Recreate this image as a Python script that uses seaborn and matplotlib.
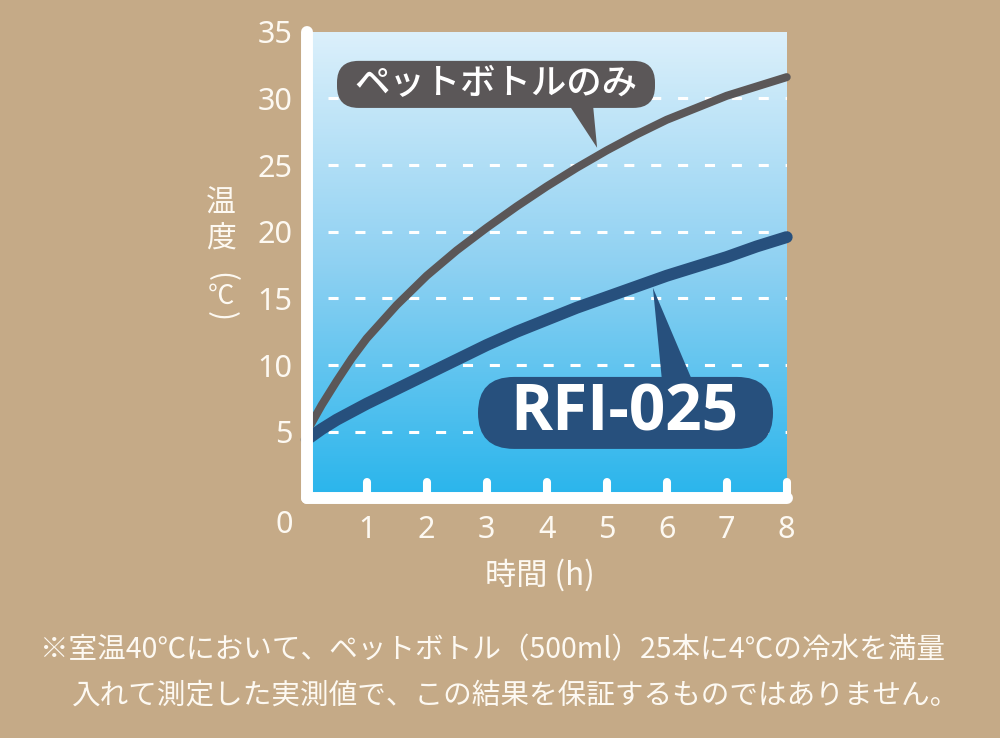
import numpy as np
import pandas as pd
import matplotlib
matplotlib.use('Agg')
import matplotlib.pyplot as plt
import seaborn as sns
from matplotlib.colors import LinearSegmentedColormap
from matplotlib.patches import FancyBboxPatch, Polygon

# data (hours -> temperature in C)
hours = [0, 0.25, 0.5, 0.75, 1, 1.5, 2, 2.5, 3, 3.5, 4, 4.5, 5, 5.5, 6, 6.5, 7, 7.5, 8]
bottle_only = [5.0, 7.0, 8.8, 10.5, 12.0, 14.5, 16.7, 18.6, 20.3, 21.9, 23.4, 24.8, 26.1, 27.3, 28.4, 29.3, 30.2, 30.9, 31.6]
rfi_025 = [4.4, 5.2, 5.9, 6.5, 7.1, 8.2, 9.3, 10.4, 11.5, 12.5, 13.4, 14.3, 15.1, 15.9, 16.7, 17.4, 18.1, 18.9, 19.6]
x_ticks = [1, 2, 3, 4, 5, 6, 7, 8]
y_ticks = [5, 10, 15, 20, 25, 30, 35]
grid_levels = [5, 10, 15, 20, 25, 30]

BG = '#c5aa87'
TXT = '#fdf9f2'
GRAY = '#5b5758'
NAVY = '#27507d'
JP = ['Noto Sans CJK JP', 'DejaVu Sans']
NUM = ['Noto Sans', 'Noto Sans CJK JP', 'DejaVu Sans']

sns.set_style('white')
plt.rcParams['font.family'] = JP

df = pd.DataFrame({'h': hours, 'bottle': bottle_only, 'rfi': rfi_025})

fig = plt.figure(figsize=(10, 7.38), dpi=100, facecolor=BG)
ax = fig.add_axes([0.3067, 0.3247, 0.48, 0.6322])
ax.patch.set_visible(False)

# background gradient
cmap = LinearSegmentedColormap.from_list('sky', ['#29b5ec', '#8fd1f2', '#dcf0fb'])
ax.imshow(np.linspace(0, 1, 256).reshape(-1, 1), extent=[0, 8.05, 0, 35], origin='lower',
          cmap=cmap, aspect='auto', zorder=0, interpolation='bicubic')

# dashed grid
ax.hlines(grid_levels, 0.35, 8.0, colors='white', linewidth=2.2,
          linestyles=(0, (3.3, 5.5)), zorder=1)

sns.lineplot(data=df, x='h', y='bottle', color=GRAY, linewidth=5.8, ax=ax,
             solid_capstyle='round', solid_joinstyle='round', clip_on=False, zorder=3)
sns.lineplot(data=df, x='h', y='rfi', color=NAVY, linewidth=8.6, ax=ax,
             solid_capstyle='round', solid_joinstyle='round', clip_on=False, zorder=3)

ax.set_xlim(0, 8)
ax.set_ylim(0, 35)
ax.set_xlabel('')
ax.set_ylabel('')

# axes lines
for s in ['top', 'right']:
    ax.spines[s].set_visible(False)
for s in ['left', 'bottom']:
    ax.spines[s].set_color('white')
    ax.spines[s].set_linewidth(8.6)
    ax.spines[s].set_capstyle('round')
    ax.spines[s].set_zorder(5)

# upward tick marks
ax.vlines(x_ticks, 0, 1.2, colors='white', linewidth=5.8, capstyle='round', zorder=5, clip_on=False)

ax.set_xticks(x_ticks)
ax.set_yticks(y_ticks)
ax.tick_params(length=0, colors=TXT, labelsize=22)
ax.tick_params(axis='y', pad=10.5)
ax.tick_params(axis='x', pad=12)
for lab in ax.get_xticklabels() + ax.get_yticklabels():
    lab.set_family(NUM)
ax.annotate('0', xy=(0, 0), xytext=(-16, -19), textcoords='offset points',
            ha='center', va='center', fontsize=22, color=TXT, family=NUM)

# callouts
asp = (35 / (0.6322 * 738)) / (8 / (0.48 * 1000))
ax.add_patch(FancyBboxPatch((0.505, 29.29), 5.3, 3.53, boxstyle='round,pad=0,rounding_size=0.36',
                            mutation_aspect=asp, fc=GRAY, ec='none', zorder=6, clip_on=False))
ax.add_patch(Polygon([(4.36, 29.6), (4.77, 29.6), (4.84, 26.3)], closed=True, fc=GRAY, ec='none', zorder=6))
ax.text(3.155, 31.05, 'ペットボトルのみ', ha='center', va='center', fontsize=25.5,
        fontweight='medium', color='white', zorder=7)

ax.add_patch(FancyBboxPatch((2.855, 3.71), 4.917, 5.4, boxstyle='round,pad=0,rounding_size=0.6',
                            mutation_aspect=asp, fc=NAVY, ec='none', zorder=6))
ax.add_patch(Polygon([(5.92, 8.9), (6.42, 8.9), (5.77, 15.8)], closed=True, fc=NAVY, ec='none', zorder=6))
ax.text(5.3, 6.35, 'RFI-025', ha='center', va='center', fontsize=46, fontweight='bold',
        color='white', zorder=7, family=['Open Sans', 'Noto Sans CJK JP'])

# axis titles
fig.text(0.540, 1 - 575 / 738, '時間 (h)', ha='center', va='center', fontsize=22.5, color=TXT)
fig.text(0.221, 1 - 221 / 738, '温\n度', ha='center', va='center', fontsize=21.5,
         color=TXT, linespacing=1.2)
fig.text(0.221, 1 - 277 / 738, '(', ha='center', va='center', fontsize=21.5, color=TXT, rotation=-90)
fig.text(0.221, 1 - 296 / 738, '℃', ha='center', va='center', fontsize=19, color=TXT)
fig.text(0.221, 1 - 316 / 738, ')', ha='center', va='center', fontsize=21.5, color=TXT, rotation=-90)

# footnote
fig.text(0.040, 1 - 650 / 738, '※室温40℃において、ペットボトル（500ml）25本に4℃の冷水を満量',
         ha='left', va='center', fontsize=20.6, color=TXT)
fig.text(0.072, 1 - 695 / 738, '入れて測定した実測値で、この結果を保証するものではありません。',
         ha='left', va='center', fontsize=20.6, color=TXT)

fig.savefig('out.png', dpi=100, facecolor=BG)
